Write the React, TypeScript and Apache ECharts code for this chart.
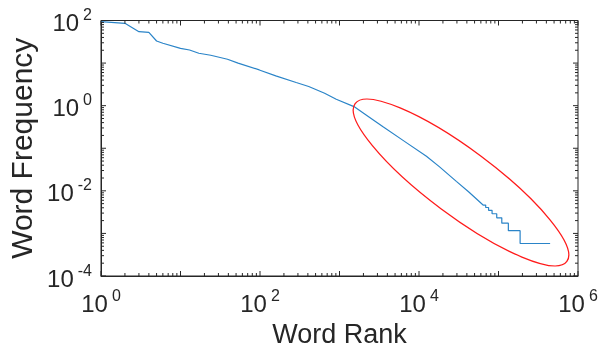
import React, { useEffect, useRef } from "react";
import * as echarts from "echarts";

// Smooth part of the rank/frequency curve
const curveRanks = [1, 2, 3, 4, 5, 6, 10, 13, 17, 24, 39, 53, 98, 158, 285, 410, 650, 910, 1520, 2300, 3530, 6500, 12400, 18000, 29500, 42000];
const curveFreqs = [93.7, 86, 54.6, 52.9, 33, 29.2, 22.2, 20.3, 17, 15.3, 12.3, 10, 6.9, 5.0, 3.5, 2.82, 1.95, 1.41, 0.95, 0.56, 0.32, 0.147, 0.065, 0.037, 0.0167, 0.0095];

// Staircase tail: level i holds from stairRanks[i] to stairRanks[i+1]
const stairRanks = [64000, 69000, 75000, 83000, 95000, 110000, 133000, 187000, 446000];
const stairFreqs = [4.64e-3, 4.06e-3, 3.48e-3, 2.9e-3, 2.32e-3, 1.74e-3, 1.16e-3, 5.8e-4];

// Axes
const xMin = 1;
const xMax = 1e6;
const yMin = 1e-4;
const yMax = 1e2;
const xDecades = [0, 1, 2, 3, 4, 5, 6];
const yDecades = [-4, -3, -2, -1, 0, 1, 2];
const minorMultipliers = [2, 3, 4, 5, 6, 7, 8, 9];

const FONT = "'Liberation Sans', Arial, Helvetica, sans-serif";
const INK = "#262626";

export default function App() {
  const ref = useRef<HTMLDivElement>(null);

  useEffect(() => {
    if (!ref.current) return;
    const chart = echarts.init(ref.current, undefined, { renderer: "svg" });

    const lineData: [number, number][] = curveRanks.map((r, i) => [r, curveFreqs[i]]);
    for (let i = 0; i < stairFreqs.length; i++) {
      lineData.push([stairRanks[i], stairFreqs[i]]);
      lineData.push([stairRanks[i + 1], stairFreqs[i]]);
    }

    type Tick = { axis: "x" | "y"; v: number; major: boolean };
    const ticks: Tick[] = [];
    xDecades.forEach((d) => {
      ticks.push({ axis: "x", v: Math.pow(10, d), major: true });
      if (d < xDecades[xDecades.length - 1])
        minorMultipliers.forEach((m) => ticks.push({ axis: "x", v: m * Math.pow(10, d), major: false }));
    });
    yDecades.forEach((d) => {
      ticks.push({ axis: "y", v: Math.pow(10, d), major: true });
      if (d < yDecades[yDecades.length - 1])
        minorMultipliers.forEach((m) => ticks.push({ axis: "y", v: m * Math.pow(10, d), major: false }));
    });

    const fmt = (v: number) => {
      const e = Math.round(Math.log10(v));
      return e % 2 === 0 ? `{b|10}{e|${e}}` : "";
    };
    const richX = {
      b: { fontSize: 24, fontFamily: FONT, color: INK, lineHeight: 28, padding: [4, 0, 0, 0] },
      e: { fontSize: 16, fontFamily: FONT, color: INK, verticalAlign: "top", lineHeight: 16, padding: [0, 0, 0, 4] },
    };
    const richY = {
      b: { fontSize: 24, fontFamily: FONT, color: INK, lineHeight: 28, padding: [4, 0, 0, 0] },
      e: { fontSize: 16, fontFamily: FONT, color: INK, verticalAlign: "top", lineHeight: 16, padding: [0, 0, 0, 4] },
    };

    chart.setOption({
      animation: false,
      grid: {
        left: 101,
        right: 24,
        top: 20.5,
        bottom: 73,
        outerBoundsMode: "none",
        containLabel: false,
        show: true,
        borderColor: INK,
        borderWidth: 1,
        backgroundColor: "#fff",
      },
      xAxis: {
        type: "log",
        logBase: 10,
        min: xMin,
        max: xMax,
        splitNumber: 6,
        name: "Word Rank",
        nameLocation: "middle",
        nameGap: 43,
        nameTextStyle: { fontSize: 27, lineHeight: 28, fontFamily: FONT, color: INK },
        axisLine: { show: true, lineStyle: { color: INK, width: 1 } },
        axisTick: { show: false },
        splitLine: { show: false },
        axisLabel: { formatter: fmt, rich: richX, margin: 11, showMinLabel: true, showMaxLabel: true },
      },
      yAxis: {
        type: "log",
        logBase: 10,
        min: yMin,
        max: yMax,
        splitNumber: 6,
        name: "Word Frequency",
        nameLocation: "middle",
        nameGap: 62,
        nameTextStyle: { fontSize: 30, fontFamily: FONT, color: INK },
        axisLine: { show: true, lineStyle: { color: INK, width: 1 } },
        axisTick: { show: false },
        splitLine: { show: false },
        axisLabel: { formatter: fmt, rich: richY, margin: 9, showMinLabel: true, showMaxLabel: true },
      },
      series: [
        {
          type: "line",
          data: lineData,
          symbol: "none",
          lineStyle: { color: "#2a84c8", width: 1.2 },
          z: 2,
        },
        {
          type: "custom",
          silent: true,
          clip: false,
          z: 3,
          data: ticks.map((t) => (t.axis === "x" ? [t.v, 1] : [1, t.v])),
          renderItem: (params: any, api: any) => {
            const t = ticks[params.dataIndex];
            const len = t.major ? 5 : 3;
            const style = { stroke: INK, lineWidth: 1 };
            if (t.axis === "x") {
              const b = api.coord([t.v, yMin]);
              const tp = api.coord([t.v, yMax]);
              return {
                type: "group",
                children: [
                  { type: "line", shape: { x1: b[0], y1: b[1], x2: b[0], y2: b[1] - len }, style },
                  { type: "line", shape: { x1: tp[0], y1: tp[1], x2: tp[0], y2: tp[1] + len }, style },
                ],
              };
            }
            const l = api.coord([xMin, t.v]);
            const r = api.coord([xMax, t.v]);
            return {
              type: "group",
              children: [
                { type: "line", shape: { x1: l[0], y1: l[1], x2: l[0] + len, y2: l[1] }, style },
                { type: "line", shape: { x1: r[0], y1: r[1], x2: r[0] - len, y2: r[1] }, style },
              ],
            };
          },
        },
      ],
      graphic: [
        {
          type: "ellipse",
          x: 461,
          y: 182.5,
          rotation: (-36.7 * Math.PI) / 180,
          shape: { cx: 0, cy: 0, rx: 132, ry: 33 },
          style: { fill: "none", stroke: "#ff1a1a", lineWidth: 1.3 },
          z: 10,
        },
      ],
    });

    return () => chart.dispose();
  }, []);

  return <div ref={ref} style={{ position: "fixed", left: 0, top: 0, width: 602, height: 349 }} />;
}
